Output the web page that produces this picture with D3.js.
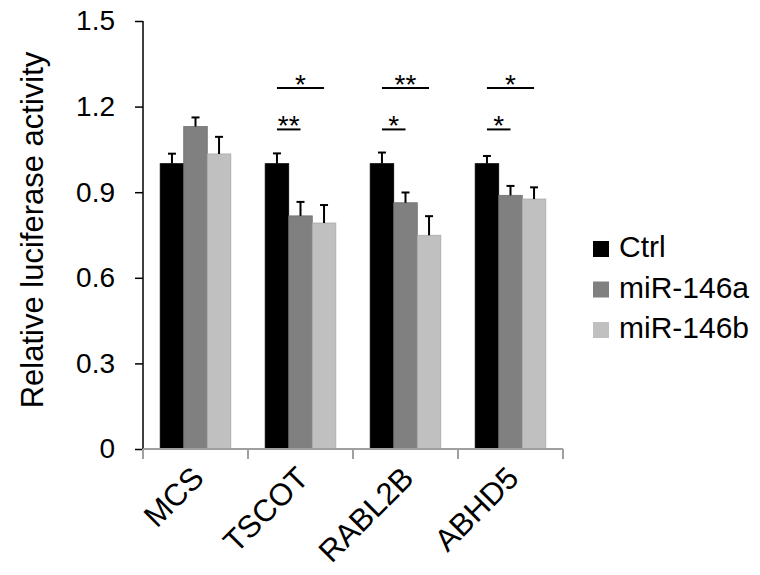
<!DOCTYPE html>
<html>
<head>
<meta charset="utf-8">
<script src="https://cdn.jsdelivr.net/npm/d3@7"></script>
<style>
  body { margin: 0; background: #fff; }
  text { font-family: "Liberation Sans", Arial, sans-serif; fill: #000; }
</style>
</head>
<body>
<div id="chart"></div>
<script>
// data
const categories = ["MCS", "TSCOT", "RABL2B", "ABHD5"];
const groups = ["Ctrl", "miR-146a", "miR-146b"];
const ctrlVals = [1.0, 1.0, 1.0, 1.0];
const mir146aVals = [1.13, 0.817, 0.863, 0.889];
const mir146bVals = [1.034, 0.792, 0.749, 0.876];
const ctrlErr = [0.035, 0.036, 0.039, 0.027];
const mir146aErr = [0.032, 0.049, 0.036, 0.033];
const mir146bErr = [0.06, 0.063, 0.067, 0.041];
const yTicks = [0, 0.3, 0.6, 0.9, 1.2, 1.5];
// significance brackets: category, from Ctrl to group, height, label
const sigCats = ["TSCOT", "TSCOT", "RABL2B", "RABL2B", "ABHD5", "ABHD5"];
const sigTo = ["miR-146a", "miR-146b", "miR-146a", "miR-146b", "miR-146a", "miR-146b"];
const sigLevel = [1.12, 1.265, 1.12, 1.265, 1.12, 1.265];
const sigLabel = ["**", "*", "*", "**", "*", "*"];

const colors = { "Ctrl": "#000000", "miR-146a": "#808080", "miR-146b": "#c0c0c0" };
const strokes = { "Ctrl": "#000000", "miR-146a": "#6e6e6e", "miR-146b": "#a8a8a8" };

const width = 760, height = 575;
const svg = d3.select("#chart").append("svg")
  .attr("width", width).attr("height", height);

const x0 = d3.scaleBand().domain(categories).range([143, 563]).paddingInner(0).paddingOuter(0);
const x1 = d3.scaleBand().domain(groups).range([0, x0.bandwidth()]).paddingInner(0).paddingOuter(0.73);
const y = d3.scaleLinear().domain([0, 1.5]).range([449, 21]);

const seriesVals = [ctrlVals, mir146aVals, mir146bVals];
const seriesErr = [ctrlErr, mir146aErr, mir146bErr];
const rows = [];
categories.forEach((c, i) => {
  groups.forEach((g, j) => {
    rows.push({ cat: c, group: g, value: seriesVals[j][i], err: seriesErr[j][i] });
  });
});

// bars
svg.append("g").selectAll("rect").data(rows).enter().append("rect")
  .attr("x", d => x0(d.cat) + x1(d.group))
  .attr("y", d => y(d.value))
  .attr("width", x1.bandwidth())
  .attr("height", d => y(0) - y(d.value))
  .attr("fill", d => colors[d.group])
  .attr("stroke", d => strokes[d.group])
  .attr("stroke-width", 0.8);

// error bars (upper only)
const eb = svg.append("g").attr("stroke", "#000").attr("stroke-width", 2);
rows.forEach(d => {
  const cx = x0(d.cat) + x1(d.group) + x1.bandwidth() / 2;
  eb.append("line").attr("x1", cx).attr("x2", cx)
    .attr("y1", y(d.value)).attr("y2", y(d.value + d.err));
  eb.append("line").attr("x1", cx - 4).attr("x2", cx + 4)
    .attr("y1", y(d.value + d.err)).attr("y2", y(d.value + d.err));
});

// y axis
const yAxis = svg.append("g").attr("transform", "translate(143,0)")
  .call(d3.axisLeft(y).tickValues(yTicks).tickSize(8).tickPadding(20)
    .tickFormat(d => d === 0 ? "0" : d3.format(".1f")(d)));
yAxis.select(".domain").attr("stroke", "#000").attr("stroke-width", 1.5)
  .attr("d", "M0," + y(1.5) + "V" + y(0));
yAxis.selectAll(".tick line").attr("stroke", "#000").attr("stroke-width", 1.5);
yAxis.selectAll(".tick text").style("font-size", "28px")
  .style("font-family", "'Liberation Sans', Arial, sans-serif").attr("fill", "#000");

// x axis
const xAxis = svg.append("g").attr("transform", "translate(0," + y(0) + ")");
xAxis.append("line").attr("x1", 143).attr("x2", 563).attr("y1", 0).attr("y2", 0)
  .attr("stroke", "#a0a0a0").attr("stroke-width", 2);
xAxis.selectAll(".xt").data(categories.concat(["end"])).enter().append("line")
  .attr("x1", (d, i) => i < categories.length ? x0(d) : x0.range()[1])
  .attr("x2", (d, i) => i < categories.length ? x0(d) : x0.range()[1])
  .attr("y1", 0).attr("y2", 10)
  .attr("stroke", "#a0a0a0").attr("stroke-width", 2);
xAxis.selectAll(".xl").data(categories).enter().append("text")
  .attr("text-anchor", "end")
  .attr("transform", d => "translate(" + (x0(d) + x0.bandwidth() / 2 + 10) + ",31) rotate(-45)")
  .style("font-size", "31px")
  .text(d => d);

// y axis title
svg.append("text")
  .attr("transform", "translate(43,230) rotate(-90)")
  .attr("text-anchor", "middle")
  .style("font-size", "31px")
  .text("Relative luciferase activity");

// significance lines
const sg = svg.append("g");
sigCats.forEach((c, i) => {
  const xa = x0(c) + x1("Ctrl") + x1.bandwidth() / 2;
  const xb = x0(c) + x1(sigTo[i]) + x1.bandwidth() / 2;
  sg.append("line").attr("x1", xa).attr("x2", xb)
    .attr("y1", y(sigLevel[i])).attr("y2", y(sigLevel[i]))
    .attr("stroke", "#000").attr("stroke-width", 2);
  sg.append("text").attr("x", (xa + xb) / 2).attr("y", y(sigLevel[i]) + 6)
    .attr("text-anchor", "middle").style("font-size", "28px")
    .text(sigLabel[i]);
});

// legend
const lg = svg.append("g").attr("transform", "translate(593,241)");
groups.forEach((g, i) => {
  const row = lg.append("g").attr("transform", "translate(0," + (i * 40.5) + ")");
  row.append("rect").attr("width", 16).attr("height", 16).attr("fill", colors[g]);
  row.append("text").attr("x", 26).attr("y", 16).style("font-size", "30px").text(g);
});
</script>
</body>
</html>
